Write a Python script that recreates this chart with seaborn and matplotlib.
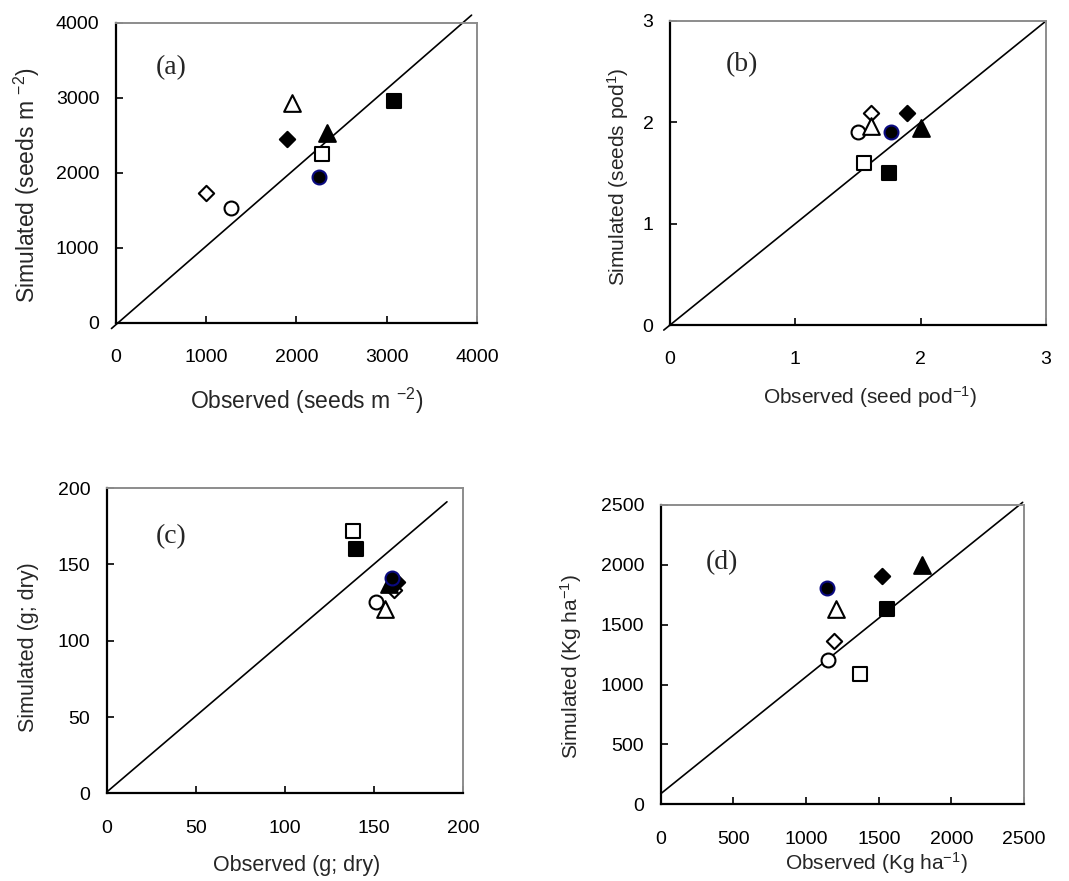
import numpy as np
import pandas as pd
import matplotlib
matplotlib.use("Agg")
import matplotlib.pyplot as plt
import seaborn as sns

sns.set_style("white")
plt.rcParams['font.family'] = ['Liberation Sans', 'DejaVu Sans']
plt.rcParams['mathtext.fontset'] = 'custom'
plt.rcParams['mathtext.rm'] = 'Liberation Sans'
plt.rcParams['mathtext.it'] = 'Liberation Sans'
plt.rcParams['mathtext.default'] = 'regular'

# ---- data -------------------------------------------------------------
treatments = ["T1", "T2", "T3", "T4", "T5", "T6", "T7", "T8"]
# marker style of each treatment (open diamond, open circle, filled diamond,
# open triangle, filled triangle, open square, filled circle, filled square)
markers = ["D", "o", "D", "^", "^", "s", "o", "s"]
faces = ["white", "white", "black", "white", "black", "white", "black", "black"]
edges = ["black", "black", "black", "black", "black", "black", "#0a0a80", "black"]

obs_a = [1000, 1270, 1890, 1945, 2335, 2280, 2245, 3085]
sim_a = [1725, 1525, 2450, 2935, 2530, 2245, 1945, 2960]

obs_b = [1.60, 1.50, 1.89, 1.60, 2.00, 1.55, 1.76, 1.75]
sim_b = [2.09, 1.90, 2.09, 1.96, 1.94, 1.60, 1.90, 1.50]

obs_c = [161, 151, 163, 156, 158.5, 138, 160, 140]
sim_c = [133, 125.5, 138.5, 120.5, 137, 172, 141, 160]

obs_d = [1193, 1153, 1523, 1205, 1798, 1370, 1146, 1558]
sim_d = [1364, 1206, 1910, 1627, 1995, 1092, 1807, 1635]

# 1:1 reference lines as drawn in the original
line_a_x, line_a_y = [-50, 3940], [-80, 4105]
line_b_x, line_b_y = [-0.05, 3.0], [-0.05, 3.0]
line_c_x, line_c_y = [0, 191], [1, 191]
line_d_x, line_d_y = [0, 2490], [88, 2522]

ticks_a = [0, 1000, 2000, 3000, 4000]
ticks_b = [0, 1, 2, 3]
ticks_c = [0, 50, 100, 150, 200]
ticks_d = [0, 500, 1000, 1500, 2000, 2500]

panels = [
    dict(obs=obs_a, sim=sim_a, lx=line_a_x, ly=line_a_y, ticks=ticks_a,
         xlabel=r"Observed (seeds m $^{-2}$)", ylabel=r"Simulated (seeds m $^{-2}$)",
         tag="(a)", pos=[0.1085, 0.6339, 0.3377, 0.3400], lab_fs=16.5,
         xlc=(0.529, -0.262), ylc=(-0.247, 0.459), tagxy=(0.152, 0.851)),
    dict(obs=obs_b, sim=sim_b, lx=line_b_x, ly=line_b_y, ticks=ticks_b,
         xlabel=r"Observed (seed pod$^{-1}$)", ylabel=r"Simulated (seeds pod$^{1}$)",
         tag="(b)", pos=[0.6268, 0.6311, 0.3517, 0.3451], lab_fs=15,
         xlc=(0.532, -0.237), ylc=(-0.138, 0.487), tagxy=(0.19, 0.855)),
    dict(obs=obs_c, sim=sim_c, lx=line_c_x, ly=line_c_y, ticks=ticks_c,
         xlabel="Observed (g; dry)", ylabel="Simulated (g; dry)",
         tag="(c)", pos=[0.1001, 0.0995, 0.3330, 0.3465], lab_fs=15.5,
         xlc=(0.534, -0.236), ylc=(-0.22, 0.479), tagxy=(0.18, 0.841)),
    dict(obs=obs_d, sim=sim_d, lx=line_d_x, ly=line_d_y, ticks=ticks_d,
         xlabel=r"Observed (Kg ha$^{-1}$)", ylabel=r"Simulated (Kg ha$^{-1}$)",
         tag="(d)", pos=[0.6181, 0.0871, 0.3399, 0.3397], lab_fs=15,
         xlc=(0.593, -0.197), ylc=(-0.247, 0.459), tagxy=(0.169, 0.808)),
]

sizes = {"D": 7.8, "o": 10.0, "^": 12.0, "s": 10.0}

fig = plt.figure(figsize=(10.69, 8.81), dpi=100)

for p in panels:
    ax = fig.add_axes(p["pos"])
    ax.set_facecolor("none")
    lo, hi = p["ticks"][0], p["ticks"][-1]
    ax.set_xlim(lo, hi)
    ax.set_ylim(lo, hi)
    ax.set_xticks(p["ticks"])
    ax.set_yticks(p["ticks"])

    sns.lineplot(x=p["lx"], y=p["ly"], ax=ax, color="black", linewidth=1.2,
                 estimator=None, sort=False, clip_on=False, zorder=2)

    for i in range(len(treatments)):
        m = markers[i]
        sns.scatterplot(x=[p["obs"][i]], y=[p["sim"][i]], ax=ax, marker=m,
                        s=sizes[m] ** 2, color=faces[i], edgecolor=edges[i],
                        linewidth=1.5, zorder=3, clip_on=False)

    for side in ["left", "bottom"]:
        ax.spines[side].set_color("black")
        ax.spines[side].set_linewidth(1.6)
    for side in ["top", "right"]:
        ax.spines[side].set_color("#8c8c8c")
        ax.spines[side].set_linewidth(1.4)
        ax.spines[side].set_visible(True)

    ax.tick_params(axis="both", direction="in", length=5, width=1.2,
                   colors="black", labelsize=14, top=False, right=False,
                   left=True, bottom=True)
    ax.tick_params(axis="x", pad=19)
    ax.tick_params(axis="y", pad=12)

    ax.set_xlabel(p["xlabel"], fontsize=p["lab_fs"], va="center")
    ax.set_ylabel(p["ylabel"], fontsize=p["lab_fs"], va="center")
    ax.xaxis.set_label_coords(*p["xlc"])
    ax.yaxis.set_label_coords(*p["ylc"])

    ax.text(p["tagxy"][0], p["tagxy"][1], p["tag"], transform=ax.transAxes,
            ha="center", va="center", fontsize=20,
            family=["Liberation Serif", "DejaVu Serif"])

fig.savefig("out.png", dpi=100)
